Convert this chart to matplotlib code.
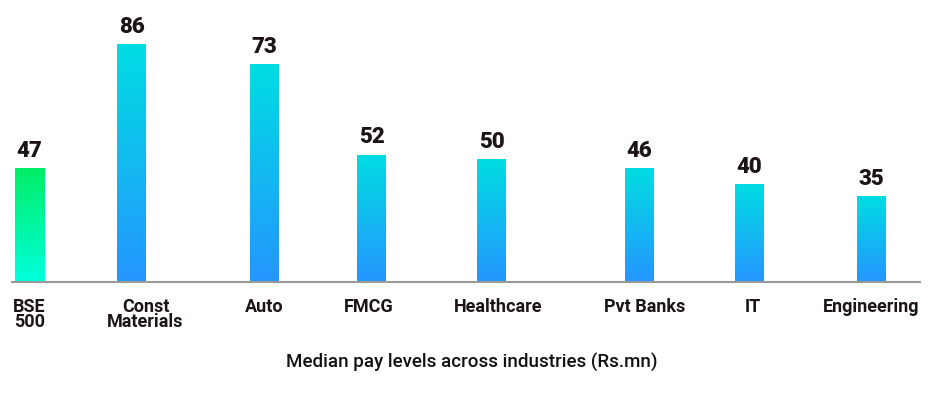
import matplotlib.pyplot as plt
import numpy as np
from matplotlib.colors import LinearSegmentedColormap

# Data
categories = ['BSE\n500', 'Const\nMaterials', 'Auto', 'FMCG', 'Healthcare', 'Pvt Banks', 'IT', 'Engineering']
values = [47, 86, 73, 52, 50, 46, 40, 35]
# bar heights as drawn in the picture (the two tallest bars are stretched vs. their labels)
bar_heights = [46.5, 97, 89, 52, 50, 46.5, 40, 35]

# layout: bar centres in px from the left end of the axis line, label nudges in px
x_pos = [17.5, 119.5, 252, 359.5, 479.5, 627.5, 737.5, 859.5]
label_dx = [0, 14, 0, -3, 6.5, 5, 3.5, 0]
bar_w = 29
txt_col = '#1c1418'

blue_cmap = LinearSegmentedColormap.from_list('blue', ['#2596ff', '#00dde2'])
green_cmap = LinearSegmentedColormap.from_list('green', ['#00ffdd', '#00ee66'])

plt.rcParams['font.family'] = ['Roboto', 'DejaVu Sans']

fig = plt.figure(figsize=(9.3, 3.95), dpi=100)
ax = fig.add_axes([12 / 930, 113 / 395, 908 / 930, 245 / 395])

bars = ax.bar(x_pos, bar_heights, width=bar_w, color='none', edgecolor='none')
grad = np.linspace(0, 1, 256).reshape(-1, 1)
for i, b in enumerate(bars):
    cmap = green_cmap if i == 0 else blue_cmap
    x0 = b.get_x()
    im = ax.imshow(grad, cmap=cmap, origin='lower', aspect='auto',
                   extent=[x0, x0 + b.get_width(), 0, b.get_height()], zorder=2)
    im.set_clip_path(b)

px = 72 / 100  # points per pixel
for x, h, v, lab, dx in zip(x_pos, bar_heights, values, categories, label_dx):
    ax.annotate(str(v), xy=(x, h), xytext=(0, 8), textcoords='offset points',
                ha='center', va='baseline', fontsize=16, fontweight='black',
                color=txt_col, annotation_clip=False)
    ax.annotate(lab, xy=(x, 0), xytext=(dx * px, -11.5), textcoords='offset points',
                ha='center', va='top', fontsize=13, fontweight='bold',
                color=txt_col, linespacing=0.8, annotation_clip=False)

ax.set_xlim(0, 908)
ax.set_ylim(0, 100)
ax.set_xticks([])
ax.set_yticks([])
for s in ['top', 'left', 'right']:
    ax.spines[s].set_visible(False)
ax.spines['bottom'].set_color('#999999')
ax.spines['bottom'].set_linewidth(1.5)

fig.text(472 / 930, 1 - 368 / 395, 'Median pay levels across industries (Rs.mn)',
         ha='center', va='baseline', fontsize=13.5, fontweight='medium', color='#111111')

fig.savefig('out.png', dpi=100, facecolor='white')
